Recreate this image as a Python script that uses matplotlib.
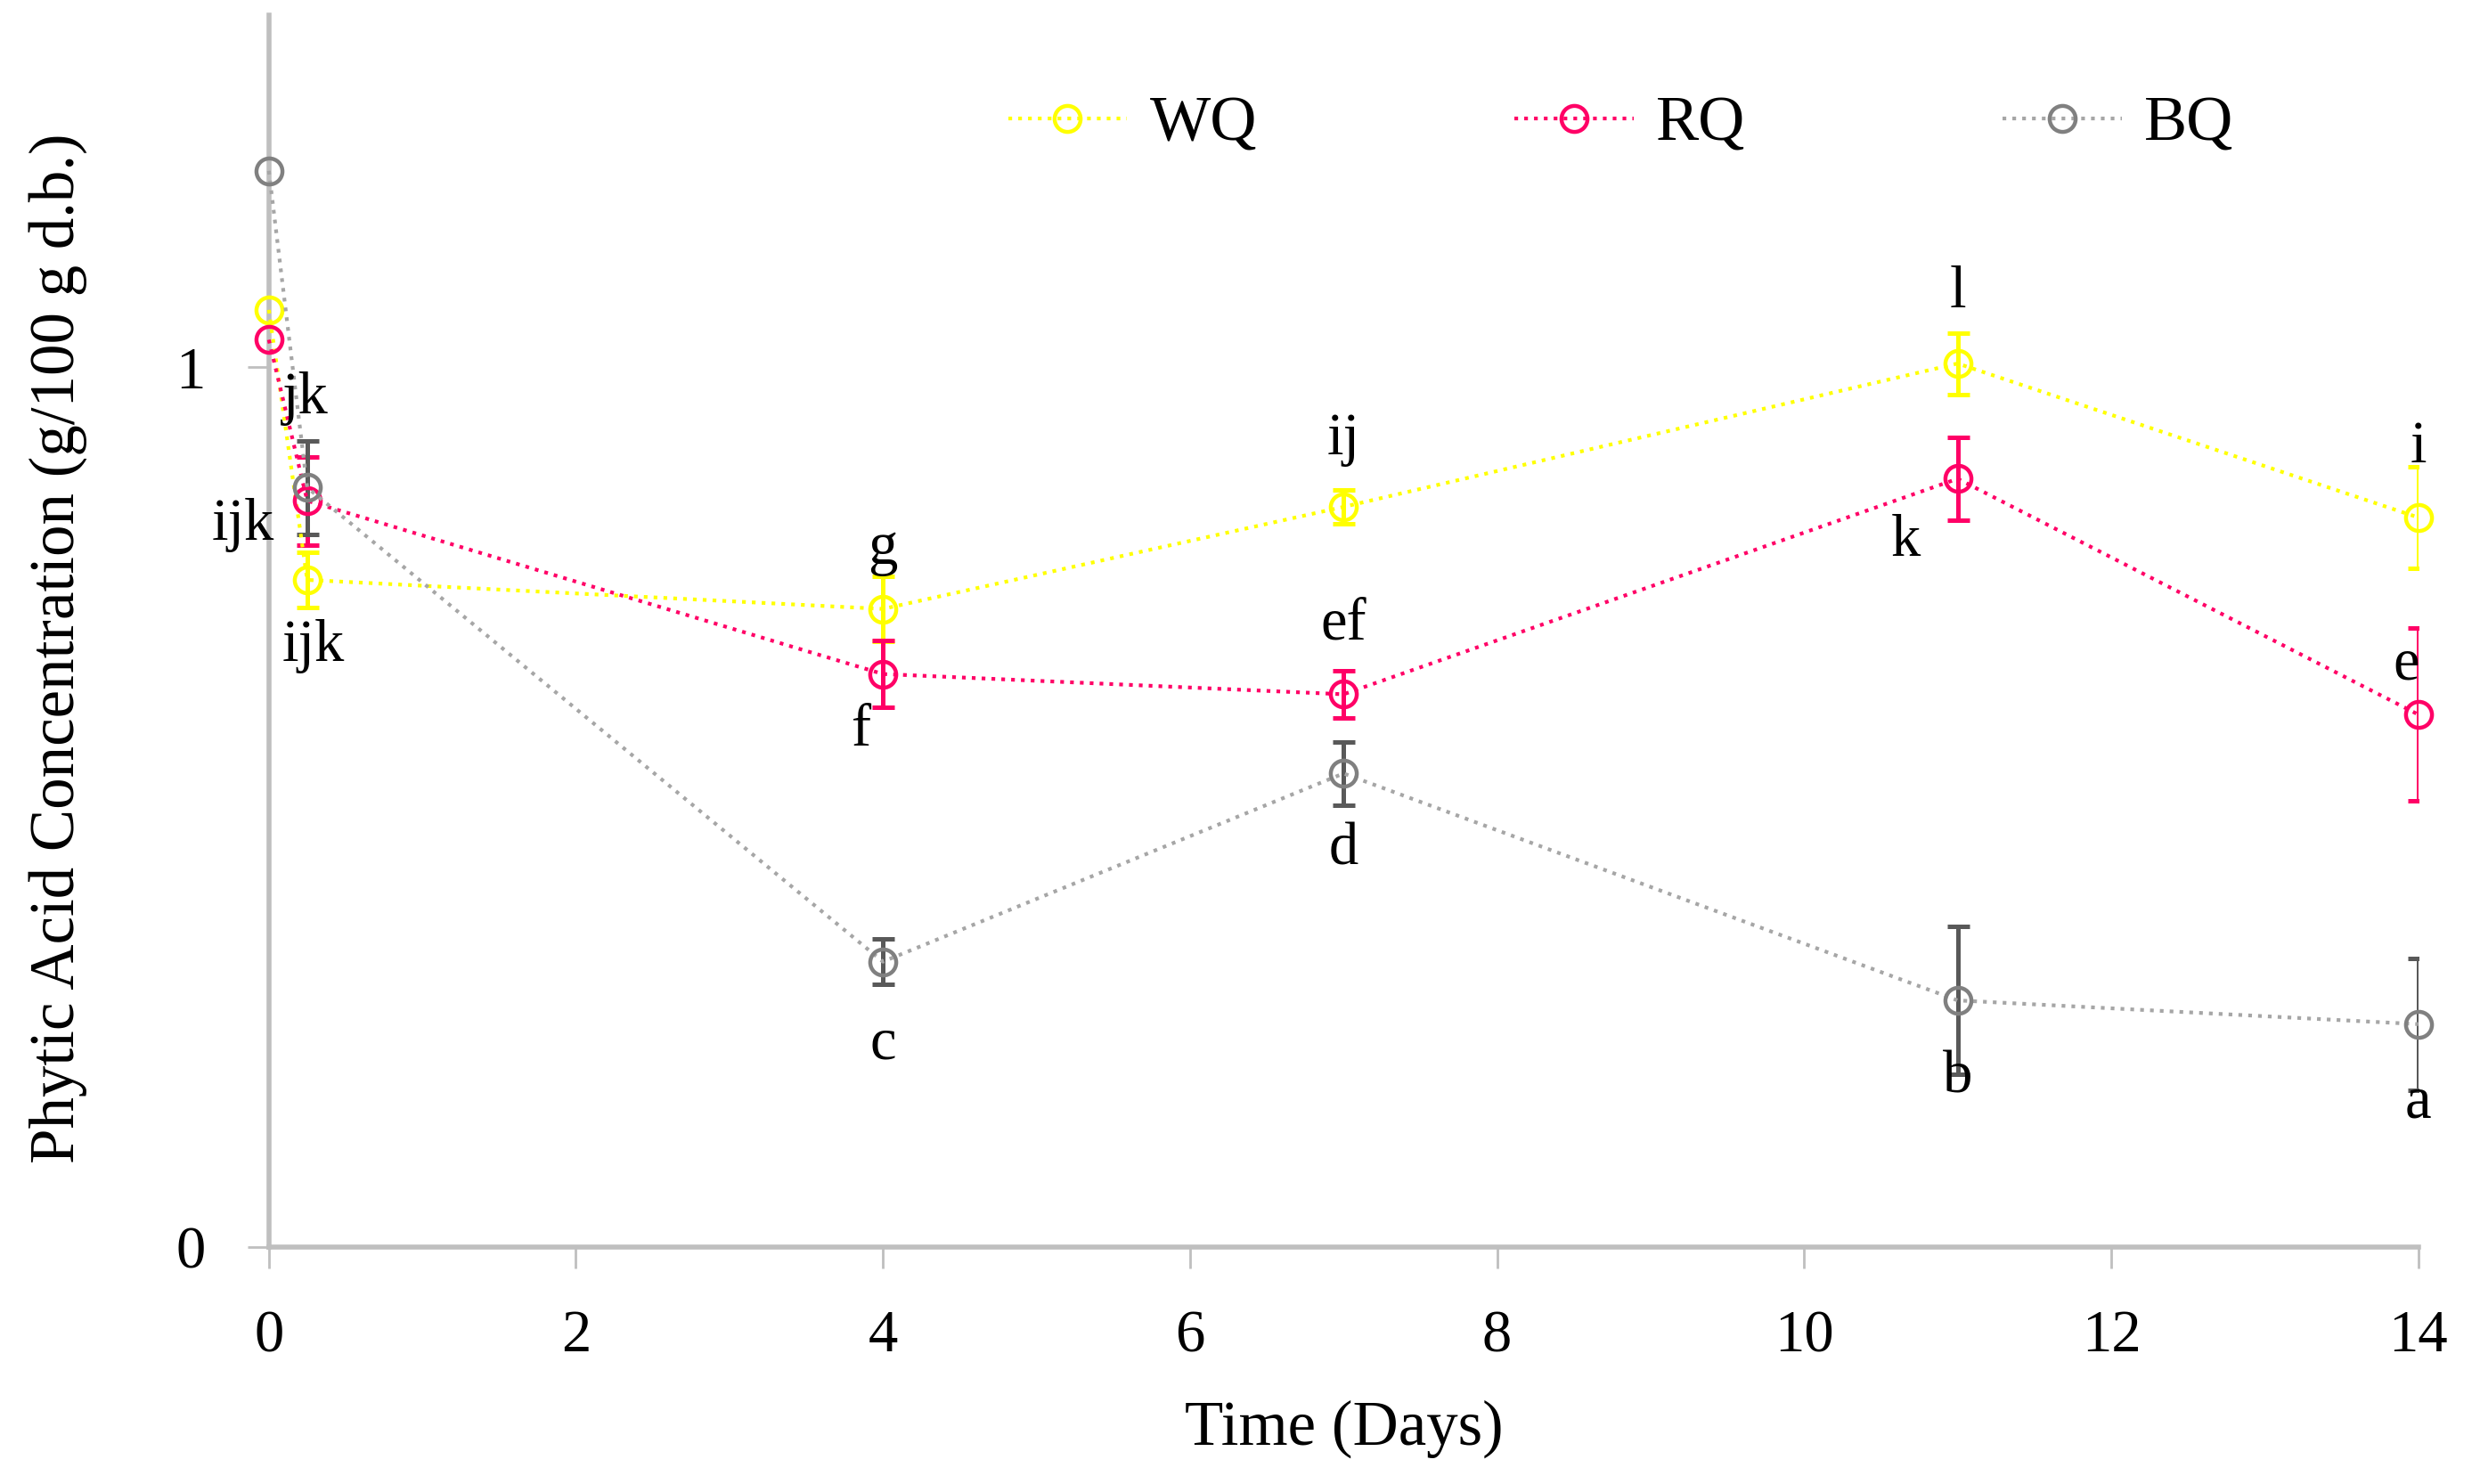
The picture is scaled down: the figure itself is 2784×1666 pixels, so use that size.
import matplotlib
matplotlib.use("Agg")
import matplotlib.pyplot as plt

plt.rcParams['font.family'] = ['Liberation Serif', 'DejaVu Serif']

days = [0, 0.25, 4, 7, 11, 14]
wq = [1.065, 0.758, 0.725, 0.841, 1.004, 0.829]
rq = [1.031, 0.848, 0.651, 0.628, 0.873, 0.605]
bq = [1.223, 0.863, 0.324, 0.538, 0.280, 0.253]
wq_err = [0, 0.031, 0.037, 0.019, 0.035, 0.058]
rq_err = [0, 0.050, 0.038, 0.027, 0.047, 0.098]
bq_err = [0, 0.053, 0.026, 0.036, 0.084, 0.075]
series_names = ["WQ", "RQ", "BQ"]

# letter annotations: (text, x, y)
ann_text = ["jk", "ijk", "ijk", "g", "f", "c", "ij", "ef", "d", "l", "k", "b", "i", "e", "a"]
ann_x = [0.24, -0.17, 0.29, 4.0, 3.86, 4.0, 7.0, 7.0, 7.0, 11.0, 10.66, 11.0, 14.0, 13.92, 14.0]
ann_y = [0.964, 0.820, 0.683, 0.793, 0.586, 0.230, 0.917, 0.707, 0.451, 1.085, 0.802, 0.192, 0.908, 0.662, 0.164]

fig = plt.figure(figsize=(13.92, 8.33), dpi=200)
ax = fig.add_axes([0.1084, 0.1599, 0.9751 - 0.1084, 0.9898 - 0.1599])

colors = ["#FFFF00", "#FF0066", "#808080"]
line_colors = ["#FFFF00", "#FF0066", "#A6A6A6"]
err_colors = ["#FFFF00", "#FF0066", "#595959"]
data = [wq, rq, bq]
errs = [wq_err, rq_err, bq_err]

for vals, err, c, lc, ec, name in zip(data, errs, colors, line_colors, err_colors, series_names):
    ax.errorbar(days[1:], vals[1:], yerr=err[1:], fmt='none', ecolor=ec,
                elinewidth=1.8, capsize=4.5, capthick=1.8, zorder=3)
    ax.plot(days, vals, linestyle=':', color=lc, linewidth=1.5,
            marker='o', markersize=10.5, markerfacecolor='none',
            markeredgecolor=c, markeredgewidth=1.6, label=name,
            clip_on=False, zorder=4)

for t, x, y in zip(ann_text, ann_x, ann_y):
    ax.text(x, y, t, ha='center', va='center', fontsize=24, color='black', zorder=5)

ax.set_xlim(0, 14)
ax.set_ylim(0, 1.4)
ax.set_xticks([0, 2, 4, 6, 8, 10, 12, 14])
ax.set_yticks([0, 1])
ax.set_yticklabels(["0", "1"])
for s in ['top', 'right']:
    ax.spines[s].set_visible(False)
for s in ['left', 'bottom']:
    ax.spines[s].set_color('#BFBFBF')
    ax.spines[s].set_linewidth(2.0)
ax.tick_params(axis='both', which='major', length=8.5, width=1.0, color='#BFBFBF',
               labelsize=24, pad=17, labelcolor='black')

ax.set_xlabel("Time (Days)", fontsize=25.5)
ax.xaxis.set_label_coords(0.5004, -0.1477)
ax.xaxis.label.set_va('center')
ax.set_ylabel("Phytic Acid Concentration (g/100 g d.b.)", fontsize=25.5)
ax.yaxis.set_label_coords(-0.0979, 0.4856)
ax.yaxis.label.set_va('center')

ax.legend(loc='center', bbox_to_anchor=(0.629, 0.911), ncol=3, frameon=False,
          fontsize=26, handlelength=1.85, handletextpad=0.35, columnspacing=4.0)

fig.savefig("out.png", dpi=200)
